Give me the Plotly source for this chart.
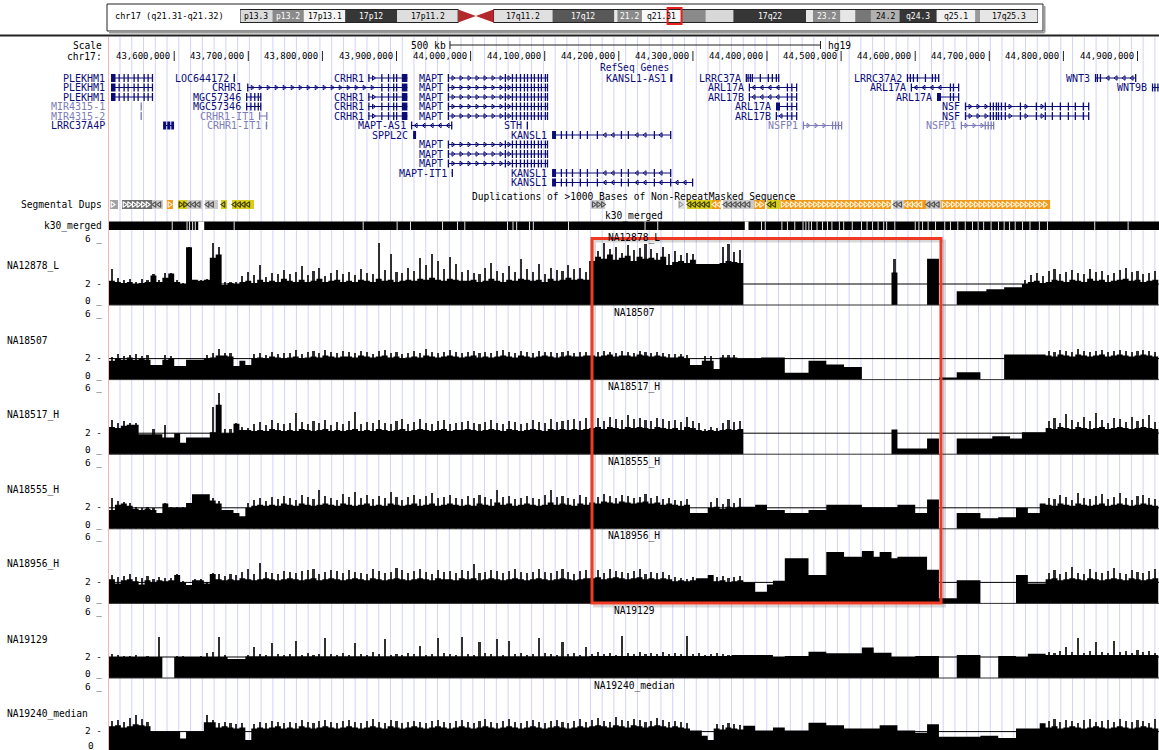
import numpy as np
import plotly.graph_objects as go

W, H = 1159, 750
FONT = "DejaVu Sans Mono"
NAVY = "#0c0c78"
LIGHT = "#7d7db8"

# ---------------- genomic window (hg19, chr17) ----------------
WIN_START, WIN_END = 43512000, 44929000
BIN = 8000          # coverage bins are 8 kb wide
NBIN = 177
DATA_LEFT_PX = 109
BPPX = (WIN_END - WIN_START) / (W - DATA_LEFT_PX)

TRACK_NAMES = ["NA12878_L", "NA18507", "NA18517_H", "NA18555_H",
               "NA18956_H", "NA19129", "NA19240_median"]

# ---------------- coverage tracks: (first bin, values) ----------------
T1_BASE = [
    (0,   [2.3, 2.2, 2.1, 2.2, 2.0, 2.1, 2.2, 2.8, 2.2, 2.6]),
    (10,  [3.0, 2.2, 2.0, 5.5, 2.4, 2.3, 2.4, 4.5, 4.8, 1.9]),
    (20,  [2.1, 2.0, 2.2, 2.3, 2.1, 2.4, 2.2, 2.3, 2.2, 2.5]),
    (30,  [2.3, 2.2, 2.4, 2.2, 2.3, 2.5, 2.2, 2.3, 2.4, 2.2]),
    (40,  [2.3, 2.2, 2.4, 2.3, 2.2, 2.5, 2.3, 2.4, 2.2, 2.3]),
    (50,  [2.4, 2.3, 2.5, 2.4, 2.6, 2.4, 2.3, 2.5, 2.4, 2.3]),
    (60,  [2.3, 2.4, 2.2, 2.3, 2.5, 2.3, 2.2, 2.4, 2.3, 2.5]),
    (70,  [2.4, 2.3, 2.4, 2.2, 2.5, 2.3, 2.4, 2.6, 2.4, 2.5, 2.4]),
    (81,  [4.2, 4.6, 4.4, 4.8, 4.3, 4.5, 4.7, 4.2, 4.6, 4.4]),
    (91,  [4.5, 4.3, 4.6, 3.8, 4.1, 4.2, 4.0, 4.3, 3.9, 3.9]),
    (101, [3.9, 3.9, 4.0, 4.2, 4.1, 4.0]),
    (107, [0.0] * 25),
    (132, [3.1]),
    (133, [0.0] * 5),
    (138, [4.4, 4.4]),
    (140, [0.0] * 3),
    (143, [1.3] * 5),
    (148, [1.5] * 3),
    (151, [1.7] * 3),
    (154, [2.0, 2.2, 2.3, 2.1, 2.2, 2.4, 2.3, 2.2, 2.4, 2.3, 2.2, 2.5,
           2.3, 2.4, 2.2, 2.3, 2.4, 2.5, 2.3, 2.4, 2.2, 2.3, 2.4]),
]
T1_PEAK = [
    (0,   [3.5, 2.6, 2.4, 2.5, 2.2, 2.5, 2.4, 3.0, 2.4, 3.1]),
    (10,  [3.1, 2.4, 2.1, 5.6, 2.4, 2.4, 2.5, 5.9, 5.6, 2.2]),
    (20,  [2.2, 2.2, 2.8, 3.2, 2.9, 3.8, 2.7, 3.1, 3.0, 3.4]),
    (30,  [3.0, 3.2, 3.7, 2.9, 3.3, 3.6, 2.8, 3.1, 3.4, 3.0]),
    (40,  [3.2, 2.9, 3.5, 3.1, 3.0, 5.9, 3.4, 4.9, 3.2, 3.1]),
    (50,  [3.6, 3.3, 4.5, 3.8, 4.9, 4.2, 3.5, 4.6, 3.9, 3.2]),
    (60,  [3.4, 3.1, 3.0, 3.6, 4.0, 3.3, 3.1, 3.7, 3.2, 4.4]),
    (70,  [3.5, 3.2, 3.9, 3.0, 3.6, 3.4, 3.3, 3.8, 3.5, 3.6, 3.2]),
    (81,  [5.8, 5.2, 5.9, 5.4, 5.6, 5.0, 5.7, 5.3, 5.5, 5.8]),
    (91,  [5.4, 5.0, 5.6, 4.9, 5.2, 4.8, 5.0, 4.9]),
    (103, [5.6, 5.8, 5.1, 5.3]),
    (132, [4.4]),
    (154, [2.4, 2.9, 3.1, 2.8, 3.3, 3.5, 3.0, 3.2, 3.4, 3.1, 3.0, 3.5,
           3.2, 3.3, 2.9, 3.1, 3.4, 3.6, 3.2, 3.3, 3.0, 3.1, 3.3]),
]

T2_BASE = [
    (0,   [1.8, 2.0, 1.9, 2.1, 1.9, 2.0, 1.9, 1.4, 1.4, 1.9]),
    (10,  [2.0, 1.3, 1.3, 1.9, 1.9, 1.9, 2.0, 2.1, 2.3, 2.3]),
    (20,  [2.2, 1.3, 1.8, 1.4, 2.0, 2.1, 2.0, 2.2, 2.1, 2.0]),
    (30,  [2.1, 2.2, 2.0, 2.1, 2.2, 2.1, 2.3, 2.2, 2.1, 2.2]),
    (40,  [2.2, 2.1, 2.3, 2.2, 2.1, 2.2, 2.3, 2.1, 2.2, 2.0]),
    (50,  [2.1, 2.2, 2.1, 2.3, 2.2, 2.1, 2.2, 2.3, 2.2, 2.1]),
    (60,  [2.2, 2.3, 2.1, 2.2, 2.1, 2.2, 2.3, 2.2, 2.1, 2.3]),
    (70,  [2.2, 2.1, 2.2, 2.3, 2.2, 2.1, 2.2, 2.3, 2.2, 2.2, 2.3]),
    (81,  [2.3, 2.2, 2.3, 2.4, 2.2, 2.3, 2.3, 2.2, 2.4, 2.3, 2.2, 2.3, 2.2, 2.1]),
    (95,  [2.1, 2.2, 2.0]),
    (98,  [1.4, 1.4]),
    (100, [1.8, 1.8]),
    (102, [1.0]),
    (103, [2.1] * 3),
    (106, [2.0] * 4),
    (110, [2.1] * 4),
    (114, [0.65] * 4),
    (118, [1.8] * 3),
    (121, [1.45] * 3),
    (124, [1.2] * 3),
    (127, [0.0] * 13),
    (140, [0.2] * 3),
    (143, [0.7] * 4),
    (147, [0.0] * 4),
    (151, [2.4] * 7),
    (158, [2.3, 2.2, 2.4, 2.3, 2.2, 2.4, 2.3, 2.2, 2.3, 2.4, 2.2, 2.3,
           2.4, 2.3, 2.2, 2.3, 2.4, 2.3, 2.2]),
]
T2_PEAK = [
    (0,   [2.1, 2.4, 2.2, 2.3, 2.4, 2.2, 2.3, 0.0, 0.0, 2.3]),
    (10,  [2.2, 0.0, 0.0, 0.0, 0.0, 0.0, 2.3, 2.5, 2.9, 2.5]),
    (20,  [2.5, 0.0, 0.0, 0.0, 2.4, 2.5, 2.3, 2.6, 2.4, 2.5]),
    (30,  [2.5, 2.8, 2.4, 2.6, 2.7, 2.5, 2.8, 2.6, 2.5, 2.7]),
    (40,  [2.6, 2.5, 2.7, 2.6, 2.4, 2.7, 2.8, 2.5, 2.6, 2.4]),
    (50,  [2.5, 2.7, 2.5, 2.9, 2.6, 2.5, 2.6, 2.8, 2.6, 2.5]),
    (60,  [2.6, 2.7, 2.5, 2.6, 2.5, 2.7, 2.8, 2.6, 2.5, 2.7]),
    (70,  [2.6, 2.5, 2.7, 2.6, 2.6, 2.5, 2.6, 2.7, 2.5, 2.6, 2.6]),
    (81,  [2.6, 2.6, 2.7, 2.6, 2.5, 2.7, 2.6, 2.5, 2.7, 2.6, 2.5, 2.6, 2.5, 2.4]),
    (95,  [2.4, 2.4, 2.3]),
    (100, [2.2, 2.2]),
    (103, [2.3, 2.3, 2.3]),
    (158, [2.7, 2.6, 2.8, 2.7, 2.6, 2.9, 2.7, 2.6, 2.7, 2.8, 2.6, 2.7,
           2.8, 2.7, 2.6, 2.7, 2.8, 2.7, 2.6]),
]

T3_BASE = [
    (0,   [2.6, 2.5, 2.7, 2.8, 2.8, 1.9, 1.9, 1.9, 1.9, 1.6]),
    (10,  [1.6, 2.0, 1.1, 1.6, 1.6, 1.6, 1.6, 2.1, 4.7, 2.0]),
    (20,  [2.0, 2.9, 2.3, 2.3, 2.2, 2.3, 2.2, 2.4, 2.3, 2.2]),
    (30,  [2.3, 2.2, 2.4, 2.3, 2.2, 2.3, 2.4, 2.2, 2.3, 2.2]),
    (40,  [2.3, 2.4, 2.2, 2.3, 2.2, 2.4, 2.3, 2.2, 2.3, 2.4]),
    (50,  [2.2, 2.3, 2.4, 2.3, 2.2, 2.3, 2.4, 2.2, 2.3, 2.3]),
    (60,  [2.4, 2.3, 2.2, 2.3, 2.4, 2.3, 2.2, 2.4, 2.3, 2.2]),
    (70,  [2.3, 2.4, 2.3, 2.2, 2.4, 2.3, 2.4, 2.3, 2.4, 2.3, 2.4]),
    (81,  [2.5, 2.6, 2.4, 2.6, 2.5, 2.4, 2.6, 2.5, 2.6, 2.5]),
    (91,  [2.4, 2.6, 2.5, 2.4, 2.5, 2.3, 2.6, 2.5, 2.3]),
    (100, [2.2, 2.3, 2.2, 2.3, 2.4, 2.3, 2.4]),
    (107, [0.0] * 25),
    (132, [2.35]),
    (133, [0.55] * 5),
    (138, [1.5, 1.5]),
    (140, [0.0] * 3),
    (143, [1.5] * 6),
    (149, [1.7] * 3),
    (152, [1.5] * 2),
    (154, [2.1] * 4),
    (158, [2.5, 2.4, 2.6, 2.5, 2.4, 2.6, 2.5, 2.4, 2.5, 2.6, 2.4, 2.5,
           2.6, 2.5, 2.4, 2.5, 2.6, 2.5, 2.4]),
]
T3_PEAK = [
    (0,   [3.3, 3.0, 3.2, 3.0, 3.0, 0.0, 0.0, 2.4, 0.0, 2.8]),
    (17,  [4.5, 5.8, 2.4]),
    (20,  [2.4, 3.0, 2.6, 2.5, 2.9, 3.1, 2.8, 3.3, 3.0, 2.9]),
    (30,  [3.0, 3.9, 3.1, 2.9, 3.2, 3.0, 3.3, 2.8, 3.1, 2.9]),
    (40,  [3.2, 4.0, 2.9, 3.1, 3.0, 3.3, 3.0, 2.9, 3.2, 3.4]),
    (50,  [2.9, 3.1, 3.4, 3.0, 2.9, 3.2, 3.3, 2.9, 3.0, 3.1]),
    (60,  [3.2, 3.0, 2.9, 3.1, 3.3, 3.0, 2.9, 3.2, 3.1, 2.9]),
    (70,  [3.0, 3.3, 3.1, 3.0, 3.4, 3.1, 3.2, 3.3, 3.4, 3.2, 3.5]),
    (81,  [3.3, 3.5, 3.2, 3.6, 3.4, 3.3, 3.7, 3.4, 3.5, 3.3]),
    (91,  [3.2, 3.5, 3.4, 3.2, 3.3, 3.1, 3.6, 3.2, 3.0]),
    (100, [2.4, 2.6, 2.5, 3.0, 3.3, 3.1, 3.2]),
    (158, [3.2, 3.5, 3.0, 3.8, 3.3, 3.1, 3.6, 3.2, 3.9, 3.3, 3.0, 3.5,
           3.4, 3.1, 3.6, 3.2, 3.4, 3.7, 3.1]),
]

T4_BASE = [
    (0,   [1.8, 2.3, 2.4, 2.2, 1.9, 1.8, 1.9, 1.8, 1.5, 2.4]),
    (10,  [2.0, 2.0, 2.0, 2.45, 3.3, 3.3, 3.3, 2.7, 2.4, 1.8]),
    (20,  [1.8, 1.5, 1.2, 2.0, 2.2, 2.3, 2.2, 2.3, 2.2, 2.4]),
    (30,  [2.3, 2.2, 2.4, 2.3, 2.2, 2.3, 2.4, 2.3, 2.2, 2.4]),
    (40,  [2.3, 2.2, 2.3, 2.4, 2.2, 2.3, 2.2, 2.4, 2.3, 2.2]),
    (50,  [2.3, 2.4, 2.2, 2.3, 2.4, 2.2, 2.3, 2.4, 2.3, 2.2]),
    (60,  [2.3, 2.2, 2.4, 2.3, 2.2, 2.5, 2.3, 2.4, 2.2, 2.3]),
    (70,  [2.4, 2.3, 2.2, 2.3, 2.5, 2.3, 2.4, 2.3, 2.2, 2.4, 2.3]),
    (81,  [2.5, 2.4, 2.6, 2.5, 2.4, 2.6, 2.5, 2.4, 2.5, 2.6, 2.4, 2.5,
           2.3, 2.4, 2.3, 2.2, 2.3]),
    (98,  [1.5] * 3),
    (101, [2.0, 2.1, 1.9, 2.1, 2.0, 2.1]),
    (107, [2.1, 2.1]),
    (109, [2.3, 2.3]),
    (111, [1.8] * 3),
    (114, [1.5] * 4),
    (118, [1.8] * 3),
    (121, [2.3] * 6),
    (127, [2.05] * 6),
    (133, [2.3] * 3),
    (136, [1.5, 1.5]),
    (138, [2.8, 2.8]),
    (140, [0.0] * 3),
    (143, [1.5] * 4),
    (147, [1.0] * 3),
    (150, [1.1] * 3),
    (153, [2.0, 2.0]),
    (155, [1.5, 1.5]),
    (157, [2.4]),
    (158, [2.3, 2.2, 2.4, 2.3, 2.2, 2.4, 2.3, 2.2, 2.3, 2.4, 2.2, 2.3,
           2.4, 2.3, 2.2, 2.3, 2.4, 2.3, 2.2]),
]
T4_PEAK = [
    (0,   [3.0, 2.7, 2.6, 2.5, 2.1, 2.0, 2.1, 2.0, 0.0, 2.5]),
    (10,  [2.1, 2.1, 2.1, 0.0, 0.0, 0.0, 0.0, 3.0, 2.7, 0.0]),
    (23,  [2.5, 2.8, 3.0, 2.7, 3.1, 2.9, 3.2]),
    (30,  [3.0, 2.8, 3.3, 3.1, 2.9, 3.7, 3.2, 3.0, 2.8, 3.4]),
    (40,  [3.1, 3.6, 3.0, 3.3, 2.9, 3.2, 3.0, 3.6, 3.1, 2.8]),
    (50,  [3.1, 3.3, 2.9, 3.2, 3.5, 3.0, 3.1, 3.3, 3.0, 2.9]),
    (60,  [3.2, 3.0, 3.3, 3.1, 2.9, 3.7, 3.1, 3.2, 2.9, 3.0]),
    (70,  [3.2, 3.0, 2.9, 3.3, 3.7, 3.1, 3.2, 3.0, 2.9, 3.3, 3.1]),
    (81,  [3.3, 3.1, 3.4, 3.2, 3.0, 3.3, 3.2, 3.0, 3.1, 3.4, 3.0, 3.2,
           2.9, 3.0, 2.8, 2.7, 2.9]),
    (101, [2.6, 3.0, 2.4, 2.9, 2.5, 3.0]),
    (158, [3.0, 2.9, 3.3, 3.1, 2.8, 3.5, 3.0, 2.9, 3.2, 3.4, 2.9, 3.1,
           3.5, 3.0, 2.8, 3.2, 3.3, 3.0, 2.9]),
]

T5_BASE = [
    (0,   [2.3, 1.9, 2.2, 2.3, 2.1, 1.8, 2.2, 2.0, 2.2, 2.1]),
    (10,  [2.2, 2.7, 2.0, 1.75, 2.2, 2.2, 1.9, 2.8, 2.3, 2.2]),
    (20,  [2.3, 2.2, 2.4, 2.3, 2.2, 2.3, 2.4, 2.3, 2.2, 2.3]),
    (30,  [2.4, 2.3, 2.2, 2.3, 2.4, 2.2, 2.3, 2.4, 2.3, 2.2]),
    (40,  [2.3, 2.4, 2.3, 2.2, 2.4, 2.3, 2.2, 2.3, 2.4, 2.3]),
    (50,  [2.2, 2.3, 2.4, 2.3, 2.2, 2.4, 2.3, 2.3, 2.2, 2.4]),
    (60,  [2.3, 2.4, 2.2, 2.3, 2.4, 2.3, 2.2, 2.3, 2.4, 2.3]),
    (70,  [2.2, 2.3, 2.4, 2.3, 2.2, 2.3, 2.4, 2.3, 2.2, 2.3, 2.4]),
    (81,  [2.4, 2.5, 2.3, 2.4, 2.5, 2.4, 2.3, 2.4, 2.5, 2.3, 2.4, 2.3, 2.4, 2.3]),
    (95,  [2.1, 2.2, 2.1, 2.2]),
    (99,  [2.4, 2.4]),
    (101, [2.7]),
    (102, [2.1, 2.2, 2.0, 2.1, 2.2]),
    (107, [2.0, 2.0]),
    (109, [1.1, 1.1]),
    (111, [1.8]),
    (112, [2.15, 2.15]),
    (114, [4.3] * 4),
    (118, [2.7] * 3),
    (121, [4.9] * 3),
    (124, [4.45] * 3),
    (127, [5.0, 5.0]),
    (129, [4.45]),
    (130, [4.9, 4.9]),
    (132, [4.3]),
    (133, [4.45] * 5),
    (138, [3.2, 3.2]),
    (140, [0.5] * 3),
    (143, [2.2] * 4),
    (147, [0.0] * 6),
    (153, [2.7, 2.7]),
    (155, [1.9] * 3),
    (158, [2.3, 2.4, 2.2, 2.3, 2.4, 2.3, 2.2, 2.4, 2.3, 2.2, 2.3, 2.4,
           2.3, 2.2, 2.4, 2.3, 2.2, 2.3, 2.4]),
]
T5_PEAK = [
    (0,   [2.7, 2.5, 2.6, 2.8, 2.5, 2.4, 2.6, 2.3, 2.5, 2.4]),
    (10,  [2.4, 2.8, 2.1, 0.0, 2.3, 2.3, 2.0, 2.9, 2.8, 2.6]),
    (20,  [2.8, 2.7, 3.0, 3.3, 2.8, 3.8, 3.0, 2.9, 2.8, 3.1]),
    (30,  [3.0, 2.9, 3.1, 3.2, 3.3, 2.8, 3.0, 3.2, 3.1, 2.9]),
    (40,  [3.2, 3.0, 2.9, 2.8, 3.3, 3.1, 2.9, 3.0, 3.4, 3.2]),
    (50,  [2.9, 3.1, 3.3, 3.0, 2.8, 3.2, 3.0, 3.1, 2.9, 3.2]),
    (60,  [3.1, 3.7, 2.9, 3.0, 3.2, 3.1, 2.9, 3.1, 3.3, 3.0]),
    (70,  [2.9, 3.0, 3.3, 3.0, 2.9, 3.1, 3.3, 3.0, 2.8, 3.1, 3.2]),
    (81,  [3.0, 3.2, 2.9, 3.3, 3.1, 3.0, 2.9, 3.1, 3.3, 2.8, 3.0, 2.9, 3.0, 2.7]),
    (95,  [2.5, 2.4, 2.3, 2.5]),
    (102, [2.5, 2.6, 2.4, 2.5, 2.6]),
    (158, [2.9, 3.2, 2.8, 3.0, 3.5, 2.9, 2.8, 3.3, 3.0, 2.9, 3.1, 3.4,
           2.9, 2.8, 3.2, 3.0, 2.9, 3.1, 3.3]),
]

T6_BASE = [
    (0,   [2.0] * 9),
    (9,   [0.0, 0.0]),
    (11,  [2.0] * 9),
    (20,  [1.8] * 3),
    (23,  [2.05] * 58),
    (81,  [2.1] * 24),
    (105, [2.2] * 7),
    (112, [2.0, 2.0]),
    (114, [2.1] * 4),
    (118, [2.5] * 3),
    (121, [2.35] * 6),
    (127, [2.9, 2.9]),
    (129, [2.4] * 3),
    (132, [2.0] * 4),
    (136, [2.1] * 4),
    (140, [0.0] * 3),
    (143, [2.2] * 4),
    (147, [0.0] * 3),
    (150, [2.1] * 3),
    (153, [2.0, 2.0]),
    (155, [2.3] * 3),
    (158, [2.2] * 19),
]
T6_PEAK = [
    (0,   [2.3, 2.2, 2.1, 2.1, 2.2, 2.0, 2.1, 2.0, 3.9, 0.0]),
    (10,  [0.0, 2.1, 2.1, 2.0, 2.0, 2.1, 2.4, 2.5, 3.9, 2.2]),
    (23,  [2.2, 3.0, 2.3, 2.2, 3.4, 2.3, 2.2]),
    (30,  [2.3, 3.6, 2.2, 2.4, 2.2, 2.3, 3.8, 2.3, 2.2, 2.4]),
    (40,  [2.2, 3.4, 2.3, 2.2, 2.5, 2.3, 3.7, 2.2, 2.3, 2.2]),
    (50,  [2.4, 2.3, 3.1, 2.2, 2.3, 3.8, 2.4, 2.3, 2.2, 3.9]),
    (60,  [2.3, 2.2, 3.5, 2.4, 2.3, 3.7, 2.2, 3.6, 2.3, 2.4]),
    (70,  [2.2, 2.3, 3.8, 2.4, 2.3, 2.2, 3.5, 2.3, 2.4, 2.2, 3.0]),
    (81,  [2.3, 2.5, 2.3, 2.4, 2.2, 4.0, 2.4, 2.3, 2.5, 2.3, 2.4, 2.3,
           2.5, 2.3, 2.4, 2.3, 4.0]),
    (98,  [2.3, 2.4, 2.2, 2.3, 2.4, 2.3, 2.2]),
    (158, [2.5, 2.4, 2.6, 3.0, 2.5, 3.8, 2.4, 2.6, 3.5, 2.5, 2.4, 3.6,
           2.5, 2.6, 2.4, 2.7, 2.5, 2.6, 2.4]),
]

T7_BASE = [
    (0,   [2.5, 2.6, 2.4, 2.5, 2.7, 2.6, 2.5, 2.0, 2.0, 2.0]),
    (10,  [2.0, 2.0, 1.35, 2.0, 2.0, 2.0, 2.9, 2.9, 2.4, 2.5]),
    (20,  [2.4, 2.3, 2.4, 1.2, 2.3, 2.4, 2.3, 2.4, 2.5, 2.3]),
    (30,  [2.4, 2.3, 2.5, 2.4, 2.3, 2.4, 2.5, 2.4, 2.3, 2.4]),
    (40,  [2.5, 2.4, 2.3, 2.4, 2.5, 2.4, 2.3, 2.5, 2.4, 2.3]),
    (50,  [2.4, 2.5, 2.4, 2.3, 2.4, 2.5, 2.4, 2.3, 2.4, 2.5]),
    (60,  [2.4, 2.3, 2.4, 2.5, 2.4, 2.3, 2.4, 2.5, 2.4, 2.3]),
    (70,  [2.4, 2.5, 2.4, 2.3, 2.4, 2.5, 2.4, 2.3, 2.4, 2.5, 2.4]),
    (81,  [2.5, 2.6, 2.5, 2.4, 2.6, 2.5, 2.4, 2.6, 2.5, 2.4, 2.5, 2.6,
           2.5, 2.4, 2.5, 2.4, 2.3]),
    (98,  [2.1, 2.1]),
    (100, [1.6]),
    (101, [1.2]),
    (102, [2.3, 2.2, 2.4, 2.3, 2.2]),
    (107, [2.55, 2.55]),
    (109, [2.1] * 3),
    (112, [2.4, 2.4]),
    (114, [2.1] * 4),
    (118, [2.85] * 3),
    (121, [2.6] * 3),
    (124, [2.3] * 6),
    (130, [2.6] * 3),
    (133, [2.1] * 3),
    (136, [1.9, 1.9]),
    (138, [2.7, 2.7]),
    (140, [1.5] * 7),
    (147, [1.6] * 3),
    (150, [1.4] * 3),
    (153, [2.3] * 4),
    (157, [2.8]),
    (158, [2.4, 2.5, 2.3, 2.4, 2.5, 2.4, 2.3, 2.4, 2.5, 2.4, 2.3, 2.4,
           2.5, 2.4, 2.3, 2.4, 2.5, 2.4, 2.3]),
]
T7_PEAK = [
    (0,   [3.0, 3.1, 2.9, 3.3, 3.6, 3.2, 2.9]),
    (16,  [3.6, 3.1, 2.8, 2.9]),
    (20,  [2.8, 2.7, 2.8, 0.0, 2.7, 2.9, 2.8, 3.0, 2.9, 2.8]),
    (30,  [2.9, 2.8, 3.1, 2.9, 2.8, 3.0, 3.1, 2.9, 2.8, 3.0]),
    (40,  [3.1, 2.9, 2.8, 3.0, 3.2, 2.9, 2.8, 3.1, 3.0, 2.8]),
    (50,  [2.9, 3.0, 2.9, 2.8, 3.0, 3.1, 2.9, 2.8, 3.0, 3.1]),
    (60,  [2.9, 2.8, 3.0, 3.2, 2.9, 2.8, 3.0, 3.2, 2.9, 2.8]),
    (70,  [3.0, 3.1, 2.9, 2.8, 3.0, 3.1, 2.9, 2.8, 3.0, 3.2, 2.9]),
    (81,  [3.1, 3.3, 3.0, 2.9, 3.4, 3.1, 3.0, 3.2, 3.1, 2.9, 3.0, 3.3,
           3.1, 2.9, 3.0, 2.9, 2.8]),
    (102, [2.7, 2.6, 2.8, 2.7, 2.6]),
    (158, [3.0, 3.2, 2.9, 3.1, 3.0, 2.8, 3.1, 3.2, 2.9, 3.0, 3.1, 2.9,
           3.2, 3.0, 2.9, 3.1, 3.0, 2.8, 3.2]),
]

TRACK_BASES = [T1_BASE, T2_BASE, T3_BASE, T4_BASE, T5_BASE, T6_BASE, T7_BASE]
TRACK_PEAKS = [T1_PEAK, T2_PEAK, T3_PEAK, T4_PEAK, T5_PEAK, T6_PEAK, T7_PEAK]

# ---------------- RefSeq gene models (kb, hg19) ----------------
GENE_MODELS = {
    "PLEKHM1":  (43514.7, 43571.4, "-", False,
                 [(43514.7, 43520.8), (43525.1, 43526.3), (43531.8, 43533.0), (43537.3, 43538.3),
                  (43545.4, 43546.4), (43550.8, 43551.8), (43558.9, 43559.9), (43564.3, 43565.3),
                  (43569.9, 43571.4)]),
    "MIR4315":  (43555.0, 43555.9, "-", True, [(43555.0, 43555.9)]),
    "LRRC37A4P": (43585.0, 43599.8, "-", False, [(43585.0, 43589.2), (43590.6, 43594.8), (43596.0, 43599.8)]),
    "LOC644172": (43680.4, 43681.6, "+", False, [(43680.4, 43681.6)]),
    "CRHR1_s":  (43862.2, 43914.7, "+", False,
                 [(43862.2, 43863.2), (43879.7, 43880.7), (43888.7, 43889.7), (43895.7, 43896.7),
                  (43899.7, 43900.7), (43907.2, 43914.7)]),
    "CRHR1_l":  (43698.5, 43914.7, "+", False,
                 [(43698.5, 43700.0), (43879.7, 43880.7), (43888.7, 43889.7), (43895.7, 43896.7),
                  (43899.7, 43900.7), (43907.2, 43914.7)]),
    "MGC57346": (43697.1, 43717.4, "+", False,
                 [(43697.1, 43698.5), (43703.0, 43704.0), (43708.0, 43709.5), (43713.0, 43714.0), (43716.2, 43717.4)]),
    "CRHR1-IT1_a": (43714.7, 43725.5, "+", True, [(43714.7, 43715.7), (43724.5, 43725.5)]),
    "CRHR1-IT1_b": (43723.6, 43725.5, "+", True, [(43723.6, 43725.5)]),
    "MAPT-AS1": (43919.7, 43975.0, "-", False, [(43919.7, 43921.0), (43974.0, 43975.0)]),
    "SPPL2C":   (43922.4, 43926.4, "+", False, [(43922.4, 43926.4)]),
    "MAPT":     (43969.5, 44104.5, "+", False,
                 [(43969.5, 43970.5), (44046.4, 44047.4), (44055.9, 44057.0), (44061.3, 44062.3),
                  (44066.7, 44068.0), (44072.1, 44073.1), (44076.1, 44077.5), (44081.5, 44082.5),
                  (44085.6, 44086.6), (44091.0, 44092.0), (44095.0, 44096.0), (44100.4, 44101.4),
                  (44103.0, 44104.5)]),
    "MAPT-IT1": (43974.4, 43976.2, "+", False, [(43974.4, 43976.2)]),
    "STH":      (44076.1, 44077.0, "+", False, [(44076.1, 44077.0)]),
    "KANSL1_s": (44109.9, 44270.5, "-", False,
                 [(44109.9, 44115.3), (44122.0, 44123.0), (44128.8, 44130.0), (44136.9, 44138.0),
                  (44147.6, 44148.6), (44157.1, 44158.1), (44170.6, 44171.6), (44203.0, 44204.0),
                  (44212.4, 44213.4), (44247.5, 44248.5), (44269.5, 44270.5)]),
    "KANSL1_l": (44109.9, 44300.2, "-", False,
                 [(44109.9, 44115.3), (44122.0, 44123.0), (44128.8, 44130.0), (44136.9, 44138.0),
                  (44147.6, 44148.6), (44157.1, 44158.1), (44170.6, 44171.6), (44203.0, 44204.0),
                  (44212.4, 44213.4), (44247.5, 44248.5), (44269.5, 44270.5), (44299.0, 44300.2)]),
    "KANSL1-AS1": (44270.0, 44271.6, "+", False, [(44270.0, 44270.8), (44271.0, 44271.6)]),
    "LRRC37A":  (44371.6, 44416.3, "+", False,
                 [(44371.6, 44372.6), (44374.0, 44375.0), (44377.0, 44378.0), (44379.7, 44380.7),
                  (44390.5, 44391.5), (44401.3, 44402.3), (44406.7, 44407.7), (44412.1, 44413.1),
                  (44415.3, 44416.3)]),
    "ARL17_l1": (44375.7, 44440.5, "-", False,
                 [(44375.7, 44376.7), (44427.0, 44428.0), (44433.0, 44434.0), (44439.5, 44440.5)]),
    "ARL17_s1": (44412.1, 44440.5, "-", False,
                 [(44412.1, 44417.5), (44427.0, 44428.0), (44433.0, 44434.0), (44439.5, 44440.5)]),
    "ARL17_s2": (44412.1, 44440.5, "-", False,
                 [(44412.1, 44413.1), (44427.0, 44428.0), (44433.0, 44434.0), (44439.5, 44440.5)]),
    "NSFP1_a":  (44448.6, 44501.2, "+", True,
                 [(44448.6, 44449.6), (44488.0, 44489.0), (44492.0, 44493.0), (44496.0, 44497.0), (44500.2, 44501.2)]),
    "LRRC37A2": (44589.0, 44632.2, "+", False,
                 [(44589.0, 44590.0), (44593.0, 44594.0), (44597.1, 44598.1), (44602.5, 44603.5),
                  (44613.3, 44614.3), (44622.7, 44623.7), (44626.8, 44627.8), (44631.2, 44632.2)]),
    "ARL17_l2": (44594.3, 44659.1, "-", False,
                 [(44594.3, 44595.3), (44647.0, 44648.0), (44651.1, 44652.1), (44658.1, 44659.1)]),
    "ARL17_s3": (44629.4, 44659.1, "-", False,
                 [(44629.4, 44634.8), (44647.0, 44648.0), (44651.1, 44652.1), (44658.1, 44659.1)]),
    "NSF":      (44667.2, 44834.6, "+", False,
                 [(44667.2, 44668.5), (44700.9, 44702.0), (44704.9, 44706.0), (44709.0, 44710.0),
                  (44711.7, 44713.0), (44715.7, 44717.0), (44721.1, 44722.1), (44741.4, 44742.5),
                  (44763.0, 44764.0), (44775.1, 44776.1), (44784.6, 44785.6), (44795.4, 44796.4),
                  (44806.2, 44807.2), (44815.6, 44816.6), (44826.4, 44827.4), (44833.6, 44834.6)]),
    "NSFP1_b":  (44661.8, 44706.4, "+", True,
                 [(44661.8, 44662.8), (44694.0, 44695.0), (44698.0, 44699.0), (44702.0, 44703.0), (44705.4, 44706.4)]),
    "WNT3":     (44842.7, 44898.0, "-", False,
                 [(44842.7, 44844.0), (44845.4, 44846.4), (44849.5, 44850.5), (44897.0, 44898.0)]),
    "WNT9B":    (44919.6, 44940.0, "+", False, [(44919.6, 44921.0), (44923.0, 44924.0), (44927.0, 44928.0)]),
}
# (label, model, row)
GENE_ROWS = [
    ("PLEKHM1", "PLEKHM1", 0), ("PLEKHM1", "PLEKHM1", 1), ("PLEKHM1", "PLEKHM1", 2),
    ("MIR4315-1", "MIR4315", 3), ("MIR4315-2", "MIR4315", 4), ("LRRC37A4P", "LRRC37A4P", 5),
    ("LOC644172", "LOC644172", 0), ("CRHR1", "CRHR1_l", 1),
    ("MGC57346", "MGC57346", 2), ("MGC57346", "MGC57346", 3),
    ("CRHR1-IT1", "CRHR1-IT1_a", 4), ("CRHR1-IT1", "CRHR1-IT1_b", 5),
    ("CRHR1", "CRHR1_s", 0), ("CRHR1", "CRHR1_s", 2), ("CRHR1", "CRHR1_s", 3), ("CRHR1", "CRHR1_s", 4),
    ("MAPT-AS1", "MAPT-AS1", 5), ("SPPL2C", "SPPL2C", 6),
    ("MAPT", "MAPT", 0), ("MAPT", "MAPT", 1), ("MAPT", "MAPT", 2), ("MAPT", "MAPT", 3),
    ("MAPT", "MAPT", 4), ("MAPT", "MAPT", 7), ("MAPT", "MAPT", 8), ("MAPT", "MAPT", 9),
    ("MAPT-IT1", "MAPT-IT1", 10), ("STH", "STH", 5),
    ("KANSL1", "KANSL1_s", 6), ("KANSL1", "KANSL1_s", 10), ("KANSL1", "KANSL1_l", 11),
    ("KANSL1-AS1", "KANSL1-AS1", 0), ("LRRC37A", "LRRC37A", 0),
    ("ARL17A", "ARL17_l1", 1), ("ARL17B", "ARL17_l1", 2), ("ARL17A", "ARL17_s1", 3), ("ARL17B", "ARL17_s2", 4),
    ("NSFP1", "NSFP1_a", 5), ("LRRC37A2", "LRRC37A2", 0), ("ARL17A", "ARL17_l2", 1), ("ARL17A", "ARL17_s3", 2),
    ("NSF", "NSF", 3), ("NSF", "NSF", 4), ("NSFP1", "NSFP1_b", 5),
    ("WNT3", "WNT3", 0), ("WNT9B", "WNT9B", 1),
]

# ---------------- segmental duplications (kb) ----------------
SD_START = [43513.3, 43529.5, 43570.0, 43576.7, 43590.2, 43605.0, 43617.3, 43641.6, 43663.2, 43678.0,
            44162.7, 44279.9, 44292.1, 44325.8, 44340.7, 44382.5, 44400.1, 44417.7, 44570.2, 44585.0,
            44614.7, 44634.9]
SD_END = [43524.1, 43570.0, 43576.7, 43584.8, 43598.3, 43617.3, 43637.5, 43659.1, 43671.3, 43707.7,
          44181.5, 44288.0, 44325.8, 44338.0, 44382.5, 44397.4, 44417.7, 44567.5, 44585.0, 44614.7,
          44634.9, 44782.0]
SD_CLASS = ["g", "dg", "lg", "lg", "o", "y", "lg", "lg", "y", "y",
            "lg", "vlg", "y", "o", "lg", "o", "y", "o", "lg", "o", "lg", "o"]
SD_STRAND = ["+", "+", "-", "-", "+", "+", "-", "-", "-", "-",
             "+", "+", "-", "-", "-", "+", "-", "+", "-", "-", "-", "+"]

# ---------------- k30_merged gaps (kb) ----------------
K30_GAPS = [(43596.7, 43597.9), (43616.7, 43617.9), (43620.2, 43621.4), (43624.3, 43625.5),
            (43627.8, 43629.0), (43632.4, 43640.5), (43680.3, 43681.5), (43854.4, 43855.6),
            (43900.2, 43901.4), (43918.2, 43919.4), (43961.6, 43962.8), (43981.6, 43982.8),
            (43991.6, 43992.8), (44049.1, 44050.3), (44056.6, 44057.8), (44061.6, 44062.8),
            (44079.0, 44080.2), (44084.0, 44085.2), (44131.5, 44132.7), (44234.8, 44236.0),
            (44252.0, 44253.2), (44370.0, 44375.0), (44392.0, 44393.2), (44397.0, 44398.2),
            (44419.5, 44420.7), (44426.9, 44428.1), (44436.9, 44438.1), (44448.0, 44449.2),
            (44451.9, 44453.1), (44455.9, 44457.1), (44459.4, 44460.6), (44466.9, 44468.1),
            (44474.4, 44475.6), (44480.9, 44482.1), (44487.0, 44488.2), (44497.0, 44498.2),
            (44502.9, 44504.1), (44514.4, 44515.6), (44526.9, 44528.1), (44534.4, 44535.6),
            (44541.9, 44543.1), (44549.3, 44550.5), (44556.9, 44558.1), (44560.9, 44562.1),
            (44571.9, 44573.1), (44599.4, 44600.6), (44604.4, 44605.6), (44609.4, 44610.6),
            (44616.8, 44618.0), (44626.9, 44628.1), (44639.3, 44640.5), (44646.9, 44648.1),
            (44656.9, 44658.1), (44666.9, 44668.1), (44676.8, 44678.0), (44684.3, 44685.5),
            (44691.8, 44693.0), (44701.8, 44703.0), (44711.8, 44713.0), (44719.4, 44720.6),
            (44726.8, 44728.0), (44734.3, 44735.5), (44744.3, 44745.5), (44754.3, 44755.5),
            (44766.9, 44768.1), (44777.8, 44779.0), (44841.7, 44842.9), (44886.7, 44887.9)]

# ---------------- chr17 ideogram (Mb) ----------------
BAND_START = [0, 3.3, 6.5, 10.7, 16.0, 22.2, 24.0, 25.8, 31.8, 38.1, 38.4, 40.9, 44.9, 47.4, 50.2,
              57.6, 58.3, 61.1, 62.6, 64.2, 67.1, 70.9, 74.8, 75.3]
BAND_END = [3.3, 6.5, 10.7, 16.0, 22.2, 24.0, 25.8, 31.8, 38.1, 38.4, 40.9, 44.9, 47.4, 50.2, 57.6,
            58.3, 61.1, 62.6, 64.2, 67.1, 70.9, 74.8, 75.3, 81.2]
BAND_LABEL = ["p13.3", "p13.2", "17p13.1", "17p12", "17p11.2", "", "", "17q11.2", "17q12", "", "21.2",
              "q21.31", "", "", "17q22", "", "23.2", "", "", "24.2", "q24.3", "q25.1", "", "17q25.3"]
BAND_FILL = ["#dadada", "#8a8a8a", "#f4f4f4", "#363636", "#dedede", "acen", "acen", "#e0e0e0", "#585858",
             "#e8e8e8", "#8a8a8a", "#f8f8f8", "#8a8a8a", "#d8d8d8", "#363636", "#e8e8e8", "#8a8a8a",
             "#e6e6e6", "#777777", "#b0b0b0", "#363636", "#f0f0f0", "#9a9a9a", "#e6e6e6"]
CHR_LEN = 81.2

TICK_POS = [43600000, 43700000, 43800000, 43900000, 44000000, 44100000, 44200000,
            44300000, 44400000, 44500000, 44600000, 44700000, 44800000, 44900000]
SCALE_BAR = (43972200, 44472200)   # 500 kb

# ---------------- layout helpers ----------------
TRACK_BASE_PX = 305.0
TRACK_STEP_PX = 74.6
UNIT_PX = 10.5
ROW0_PX, ROW_STEP_PX = 78.0, 9.5


def assemble(pieces):
    arr = [0.0] * NBIN
    for s, vals in pieces:
        for j, v in enumerate(vals):
            if 0 <= s + j < NBIN:
                arr[s + j] = v
    return arr


def bp_to_px(bp):
    return DATA_LEFT_PX + (bp - WIN_START) / BPPX


shapes = []
annotations = []
traces = []


def ann(text, x, y, xref="paper", anchor="left", color="black", size=9.6, xshift=0):
    if xref == "paper":
        x = x / W
    annotations.append(dict(text=text, x=x, y=y, xref=xref, yref="y", xanchor=anchor,
                            yanchor="middle", showarrow=False, xshift=xshift,
                            font=dict(family=FONT, size=size, color=color)))


def rect(x0, x1, y0, y1, fill, xref="x", line_color=None, lw=0, layer="above", yref="y"):
    d = dict(type="rect", xref=xref, yref=yref, x0=x0, x1=x1, y0=y0, y1=y1,
             fillcolor=fill, layer=layer, line=dict(width=lw, color=line_color or fill))
    shapes.append(d)


def hline(x0, x1, y, color, width=1, xref="x", yref="y", layer="above"):
    shapes.append(dict(type="line", xref=xref, yref=yref, x0=x0, x1=x1, y0=y, y1=y,
                       layer=layer, line=dict(color=color, width=width)))


def vline(x, y0, y1, color, width=1, xref="x", yref="y", layer="above"):
    shapes.append(dict(type="line", xref=xref, yref=yref, x0=x, x1=x, y0=y0, y1=y1,
                       layer=layer, line=dict(color=color, width=width)))


# ---------------- background guides ----------------
for k in range(89):
    gx = 120 + 11.76 * k
    if gx > W:
        break
    vline(gx / W, 37, H, "#d3d3f6", 1, xref="paper", layer="below")
vline(108.5 / W, 37, H, "#f2b6b6", 1, xref="paper", layer="below")

# ---------------- ideogram ----------------
rect(107 / W, 1043 / W, 4, 31, "white", xref="paper", line_color="#222", lw=1, layer="below")
vline(1044.5 / W, 6, 32.5, "#9a9a9a", 2, xref="paper", layer="below")
hline(109 / W, 1044.5 / W, 32.5, "#9a9a9a", 2, xref="paper", layer="below")
ann("chr17 (q21.31-q21.32)", 113, 16, size=8.6)
for s, e, lab, fill in zip(BAND_START, BAND_END, BAND_LABEL, BAND_FILL):
    if fill == "acen":
        continue
    rect(s, e, 9.5, 22.5, fill, xref="x2")
    if lab:
        dark = int(fill[1:3], 16) < 0x99
        annotations.append(dict(text=lab, x=(s + e) / 2, y=16.5, xref="x2", yref="y",
                                showarrow=False, xanchor="center", yanchor="middle",
                                font=dict(family=FONT, size=8, color="white" if dark else "black")))
rect(BAND_START[0], BAND_END[4], 9.5, 22.5, "rgba(0,0,0,0)", xref="x2", line_color="#222", lw=1)
rect(BAND_START[7], BAND_END[-1], 9.5, 22.5, "rgba(0,0,0,0)", xref="x2", line_color="#222", lw=1)
cen = (BAND_END[5])
shapes.append(dict(type="path", xref="x2", yref="y", layer="above",
                   path=f"M {BAND_START[5]},9.5 L {cen},16 L {BAND_START[5]},22.5 Z",
                   fillcolor="#b3282c", line=dict(width=0)))
shapes.append(dict(type="path", xref="x2", yref="y", layer="above",
                   path=f"M {BAND_END[6]},9.5 L {cen},16 L {BAND_END[6]},22.5 Z",
                   fillcolor="#b3282c", line=dict(width=0)))
rect(WIN_START / 1e6, WIN_END / 1e6, 8, 24, "rgba(0,0,0,0)", xref="x2", line_color="#e8201c", lw=2)

# separator under ideogram
hline(0, 1, 35.5, "#222", 2, xref="paper")

# ---------------- scale + position rows ----------------
ann("Scale", 104, 45, anchor="right")
ann("chr17:", 104, 56, anchor="right")
hline(SCALE_BAR[0], SCALE_BAR[1], 45, "#222", 1)
vline(SCALE_BAR[0], 41, 49, "#222", 1)
vline(SCALE_BAR[1], 41, 49, "#222", 1)
annotations.append(dict(text="500 kb", x=SCALE_BAR[0], y=45, xref="x", yref="y", xanchor="right",
                        yanchor="middle", xshift=-2, showarrow=False,
                        font=dict(family=FONT, size=9.6, color="black")))
annotations.append(dict(text="hg19", x=SCALE_BAR[1], y=45, xref="x", yref="y", xanchor="left",
                        yanchor="middle", xshift=5, showarrow=False,
                        font=dict(family=FONT, size=9.6, color="black")))
for t in TICK_POS:
    vline(t, 51, 61, "#222", 1)
    annotations.append(dict(text=f"{t:,}", x=t, y=56, xref="x", yref="y", xanchor="right",
                            yanchor="middle", xshift=-2, showarrow=False,
                            font=dict(family=FONT, size=9.0, color="black")))

# ---------------- RefSeq genes ----------------
ann("RefSeq Genes", 634, 67.5, anchor="center", color=NAVY)
chev = {("+", False): ([], []), ("-", False): ([], []), ("+", True): ([], []), ("-", True): ([], [])}
for label, key, row in GENE_ROWS:
    s_kb, e_kb, strand, light, exons = GENE_MODELS[key]
    col = LIGHT if light else NAVY
    yc = ROW0_PX + ROW_STEP_PX * row
    s, e = s_kb * 1000, e_kb * 1000
    hline(s, e, yc, col, 1)
    for a, b in exons:
        a, b = a * 1000, b * 1000
        if b - a < 1.3 * BPPX:
            mid = (a + b) / 2
            a, b = mid - 0.65 * BPPX, mid + 0.65 * BPPX
        rect(a, b, yc - 4, yc + 4, col)
    # strand chevrons along introns (decoration)
    for p in np.arange(s + 5 * BPPX, e - 3 * BPPX, 8 * BPPX):
        if any(a * 1000 - 2.5 * BPPX <= p <= b * 1000 + 2.5 * BPPX for a, b in exons):
            continue
        if WIN_START < p < WIN_END:
            chev[(strand, light)][0].append(p)
            chev[(strand, light)][1].append(yc)
    px0 = bp_to_px(s)
    if px0 - 3 - len(label) * 6.1 < DATA_LEFT_PX + 1:
        ann(label, 107, yc, anchor="right", color=col, size=10)
    else:
        annotations.append(dict(text=label, x=s, y=yc, xref="x", yref="y", xanchor="right",
                                yanchor="middle", xshift=-3, showarrow=False,
                                font=dict(family=FONT, size=10, color=col)))
for (strand, light), (xs, ys) in chev.items():
    if xs:
        traces.append(go.Scatter(x=xs, y=ys, xaxis="x", yaxis="y", mode="markers", hoverinfo="skip",
                                 marker=dict(symbol="triangle-right-open" if strand == "+" else "triangle-left-open",
                                             size=4, color=LIGHT if light else NAVY,
                                             line=dict(width=1, color=LIGHT if light else NAVY))))

# ---------------- segmental dups ----------------
ann("Duplications of >1000 Bases of Non-RepeatMasked Sequence", 634, 196, anchor="center")
ann("Segmental Dups", 104, 204.5, anchor="right")
SD_COL = {"vlg": "#e4e4e4", "lg": "#cbcbcb", "g": "#a2a2a2", "dg": "#707070",
          "y": "#d8cc1c", "o": "#f09a1c"}
SD_CHEV = {"vlg": "#999999", "lg": "#555555", "g": "#ffffff", "dg": "#ffffff",
           "y": "#444400", "o": "#fff0d0"}
sd_chev = {}
for s, e, c, st in zip(SD_START, SD_END, SD_CLASS, SD_STRAND):
    rect(s * 1000, e * 1000, 200, 209, SD_COL[c], layer="below")
    for p in np.arange(s * 1000 + 2.5 * BPPX, e * 1000 - 1.5 * BPPX, 4.6 * BPPX):
        sd_chev.setdefault((st, SD_CHEV[c]), []).append(p)
for (st, col), xs in sd_chev.items():
    traces.append(go.Scatter(x=xs, y=[204.5] * len(xs), xaxis="x", yaxis="y", mode="markers",
                             hoverinfo="skip",
                             marker=dict(symbol="triangle-right-open" if st == "+" else "triangle-left-open",
                                         size=5, color=col, line=dict(width=1.2, color=col))))

# ---------------- k30_merged ----------------
ann("k30_merged", 634, 216, anchor="center")
ann("k30_merged", 104, 225.5, anchor="right")
rect(WIN_START, WIN_END, 221.5, 230, "black")
for a, b in K30_GAPS:
    rect(a * 1000, b * 1000, 221.5, 230, "white")

# ---------------- coverage tracks ----------------
edges = [WIN_START + k * BIN for k in range(NBIN + 1)]
centers = [WIN_START + (k + 0.5) * BIN for k in range(NBIN)]
layout_axes = {}
for i, name in enumerate(TRACK_NAMES):
    base_px = TRACK_BASE_PX + TRACK_STEP_PX * i
    top_px = base_px - 6.6 * UNIT_PX
    bot_px = min(base_px + 2, H)
    ax = f"y{i + 2}"
    layout_axes[f"yaxis{i + 2}"] = dict(domain=[1 - bot_px / H, 1 - top_px / H],
                                        range=[(base_px - bot_px) / UNIT_PX, (base_px - top_px) / UNIT_PX],
                                        visible=False, fixedrange=True, anchor="x")
    base = assemble(TRACK_BASES[i])
    peak = assemble(TRACK_PEAKS[i])
    traces.append(go.Scatter(x=edges, y=base + [base[-1]], xaxis="x", yaxis=ax, mode="lines",
                             line=dict(width=0, shape="hv", color="black"), fill="tozeroy",
                             fillcolor="black", hoverinfo="skip"))
    px_, py_ = [], []
    for k in range(NBIN):
        if peak[k] > base[k]:
            px_.append(centers[k])
            py_.append(peak[k])
    traces.append(go.Bar(x=px_, y=py_, width=2800, xaxis="x", yaxis=ax, hoverinfo="skip",
                         marker=dict(color="#303030", line=dict(width=0))))
    shapes.append(dict(type="line", xref="x", yref=ax, x0=WIN_START, x1=WIN_END, y0=2, y1=2,
                       layer="above", line=dict(color="black", width=1)))
    shapes.append(dict(type="line", xref="x", yref=ax, x0=WIN_START, x1=WIN_END, y0=0, y1=0,
                       layer="above", line=dict(color="#333", width=1)))
    # labels
    ann(name, 5, base_px - 39)
    ann("6 _", 104, base_px - 66.5, anchor="right", size=9.4)
    ann("2 -", 104, base_px - 22, anchor="right", size=9.4)
    if base_px + 2 < H:
        ann("0 _", 104, base_px - 4.5, anchor="right", size=9.4)
    else:
        ann("0", 96, H - 5, anchor="right", size=9.4)
    ann(name, 634, base_px - TRACK_STEP_PX + 7.5, anchor="center")

# ---------------- highlight box ----------------
rect(594.5 / W, 944.5 / W, 241, 606, "rgba(0,0,0,0)", xref="paper",
     line_color="rgba(0,0,0,0.15)", lw=3)
rect(592 / W, 941 / W, 238.5, 603, "rgba(0,0,0,0)", xref="paper", line_color="#ef3b24", lw=3)

# dummy trace so that the ideogram axis exists
traces.append(go.Scatter(x=[0, CHR_LEN], y=[-50, -50], xaxis="x2", yaxis="y", mode="markers",
                         marker=dict(opacity=0), hoverinfo="skip"))

fig = go.Figure(data=traces)
fig.update_layout(
    width=W, height=H, margin=dict(l=0, r=0, t=0, b=0),
    paper_bgcolor="white", plot_bgcolor="rgba(0,0,0,0)",
    showlegend=False, barmode="overlay", bargap=0,
    xaxis=dict(domain=[DATA_LEFT_PX / W, 1], range=[WIN_START, WIN_END], visible=False,
               fixedrange=True, anchor="y"),
    yaxis=dict(domain=[0, 1], range=[H, 0], visible=False, fixedrange=True, anchor="x"),
    xaxis2=dict(domain=[240 / W, 1038 / W], range=[0, CHR_LEN], visible=False,
                fixedrange=True, anchor="y"),
    shapes=shapes, annotations=annotations,
    **layout_axes,
)
fig.write_html("out.html", config={"displayModeBar": False},
               post_script="document.body.style.margin='0px';document.body.style.padding='0px';"
                           "document.body.style.overflow='hidden';")
